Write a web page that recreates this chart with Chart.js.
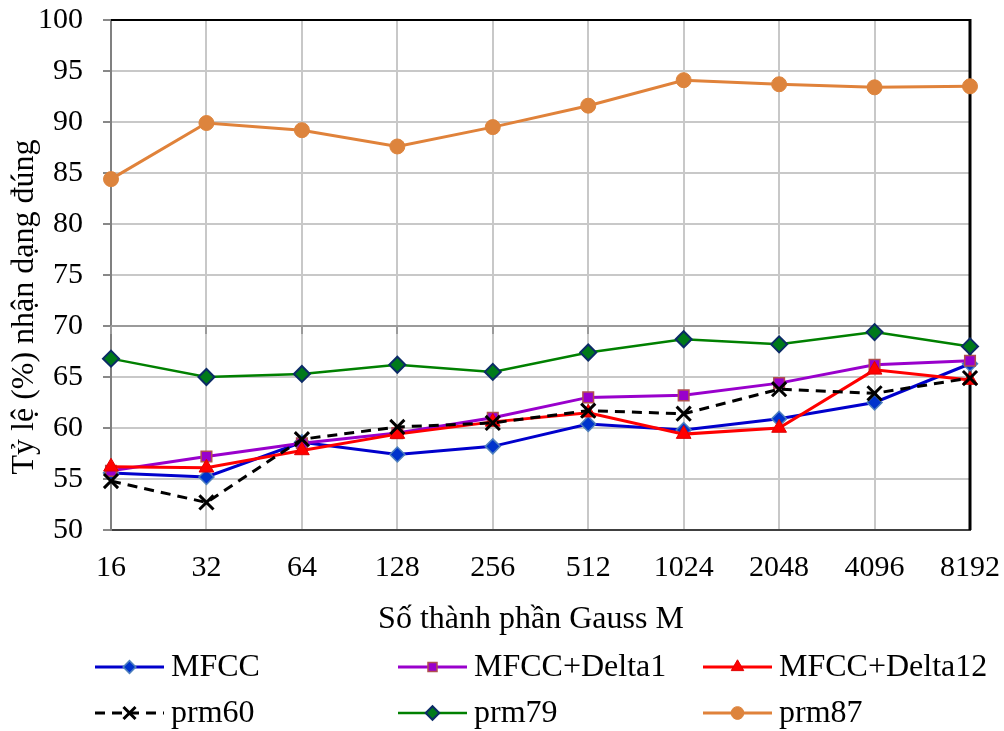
<!DOCTYPE html>
<html>
<head>
<meta charset="utf-8">
<script src="https://cdn.jsdelivr.net/npm/chart.js@4/dist/chart.umd.min.js"></script>
<style>
  html, body { margin: 0; padding: 0; background: #ffffff; }
  #wrap { width: 1004px; height: 731px; position: relative; }
</style>
</head>
<body>
<div id="wrap"><canvas id="chart" width="1004" height="731"></canvas></div>
<script>
// Number of Gaussian components M (category axis)
const categories = ['16', '32', '64', '128', '256', '512', '1024', '2048', '4096', '8192'];

// Recognition rate (%) per feature set
const mfcc        = [55.6, 55.2, 58.6, 57.4, 58.2, 60.4, 59.8, 60.9, 62.5, 66.3];
const mfccDelta1  = [55.8, 57.2, 58.5, 59.5, 61.0, 63.0, 63.2, 64.4, 66.2, 66.6];
const mfccDelta12 = [56.2, 56.1, 57.8, 59.4, 60.6, 61.5, 59.4, 60.0, 65.7, 64.7];
const prm60       = [54.8, 52.7, 58.9, 60.1, 60.5, 61.7, 61.4, 63.8, 63.4, 64.9];
const prm79       = [66.8, 65.0, 65.3, 66.2, 65.5, 67.4, 68.7, 68.2, 69.4, 68.0];
const prm87       = [84.4, 89.9, 89.2, 87.6, 89.5, 91.6, 94.1, 93.7, 93.4, 93.5];

const seriesLabels = ['MFCC', 'MFCC+Delta1', 'MFCC+Delta12', 'prm60', 'prm79', 'prm87'];

// Value axis range
const yMin = 50;
const yMax = 100;
const yStep = 5;

const xTitle = 'Số thành phần Gauss M';
const yTitle = 'Tỷ lệ (%) nhận dạng đúng';

const FONT = '"Liberation Serif", "Times New Roman", serif';
Chart.defaults.font.family = FONT;
Chart.defaults.color = '#000000';

// Darker reference line at 70 with small hanging ticks, plus the top and right frame
const framePlugin = {
  id: 'frame',
  beforeDatasetsDraw(chart) {
    const { ctx, chartArea: a, scales } = chart;
    ctx.save();
    const y70 = Math.round(scales.y.getPixelForValue(70));
    ctx.strokeStyle = '#9a9a9a';
    ctx.lineWidth = 2;
    ctx.beginPath();
    ctx.moveTo(a.left, y70);
    ctx.lineTo(a.right, y70);
    categories.forEach((c, i) => {
      const x = Math.round(scales.x.getPixelForValue(i));
      ctx.moveTo(x, y70);
      ctx.lineTo(x, y70 + 8);
    });
    ctx.stroke();

    ctx.strokeStyle = '#000000';
    ctx.lineWidth = 2;
    ctx.beginPath();
    ctx.moveTo(a.left, a.top);
    ctx.lineTo(a.right, a.top);
    ctx.stroke();
    ctx.lineWidth = 3;
    ctx.beginPath();
    ctx.moveTo(a.right, a.top - 1);
    ctx.lineTo(a.right, a.bottom);
    ctx.stroke();
    ctx.restore();
  }
};

// Axis titles
const titlesPlugin = {
  id: 'axisTitles',
  afterDraw(chart) {
    const ctx = chart.ctx;
    ctx.save();
    ctx.fillStyle = '#000000';
    ctx.font = '32px ' + FONT;
    ctx.textAlign = 'center';
    ctx.textBaseline = 'middle';
    ctx.fillText(xTitle, 531, 620);
    ctx.translate(25, 307);
    ctx.rotate(-Math.PI / 2);
    ctx.fillText(yTitle, 0, 0);
    ctx.restore();
  }
};

// Three-column legend drawn from the datasets' own styles
const legendPlugin = {
  id: 'gridLegend',
  afterDraw(chart) {
    const ctx = chart.ctx;
    const cols = [95, 398, 703];
    const rows = [667, 713];
    const lineLen = 69;
    chart.data.datasets.forEach((ds, i) => {
      const x0 = cols[i % 3];
      const y = rows[Math.floor(i / 3)];
      ctx.save();
      ctx.strokeStyle = ds.borderColor;
      ctx.lineWidth = ds.borderWidth;
      ctx.setLineDash(ds.borderDash || []);
      ctx.beginPath();
      ctx.moveTo(x0, y);
      ctx.lineTo(x0 + lineLen, y);
      ctx.stroke();
      ctx.setLineDash([]);
      ctx.fillStyle = ds.pointBackgroundColor;
      ctx.strokeStyle = ds.pointBorderColor;
      ctx.lineWidth = ds.pointBorderWidth;
      Chart.helpers.drawPoint(ctx, {
        pointStyle: ds.pointStyle,
        radius: ds.pointRadius * 0.85,
        rotation: 0,
        borderWidth: ds.pointBorderWidth
      }, x0 + lineLen / 2, y);
      ctx.fillStyle = '#000000';
      ctx.font = '32px ' + FONT;
      ctx.textAlign = 'left';
      ctx.textBaseline = 'middle';
      ctx.fillText(ds.label, x0 + lineLen + 7, y + 1);
      ctx.restore();
    });
  }
};

function series(label, data, opts, order) {
  return Object.assign({
    label: label,
    data: data,
    fill: false,
    tension: 0,
    clip: false,
    order: order
  }, opts);
}

const datasets = [
  series(seriesLabels[0], mfcc, {
    borderColor: '#0000cc', borderWidth: 3,
    pointStyle: 'rectRot', pointRadius: 7.5,
    pointBackgroundColor: '#0033cc', pointBorderColor: '#4f81bd', pointBorderWidth: 1.5
  }, 6),
  series(seriesLabels[1], mfccDelta1, {
    borderColor: '#9900cc', borderWidth: 3,
    pointStyle: 'rect', pointRadius: 7.5,
    pointBackgroundColor: '#9900cc', pointBorderColor: '#b0504f', pointBorderWidth: 1.5
  }, 5),
  series(seriesLabels[2], mfccDelta12, {
    borderColor: '#ff0000', borderWidth: 3,
    pointStyle: 'triangle', pointRadius: 8.5,
    pointBackgroundColor: '#ff0000', pointBorderColor: '#e00000', pointBorderWidth: 1
  }, 4),
  series(seriesLabels[3], prm60, {
    borderColor: '#000000', borderWidth: 3, borderDash: [10, 7],
    pointStyle: 'crossRot', pointRadius: 10,
    pointBackgroundColor: '#000000', pointBorderColor: '#000000', pointBorderWidth: 3
  }, 3),
  series(seriesLabels[4], prm79, {
    borderColor: '#008000', borderWidth: 2.5,
    pointStyle: 'rectRot', pointRadius: 8,
    pointBackgroundColor: '#007a1a', pointBorderColor: '#0b2b66', pointBorderWidth: 2
  }, 2),
  series(seriesLabels[5], prm87, {
    borderColor: '#e0823a', borderWidth: 3,
    pointStyle: 'circle', pointRadius: 7.5,
    pointBackgroundColor: '#dd843d', pointBorderColor: '#dd843d', pointBorderWidth: 1
  }, 1)
];

new Chart(document.getElementById('chart'), {
  type: 'line',
  data: { labels: categories, datasets: datasets },
  plugins: [framePlugin, titlesPlugin, legendPlugin],
  options: {
    responsive: false,
    animation: false,
    devicePixelRatio: 1,
    layout: { padding: { top: 20, right: 34, left: 0, bottom: 0 } },
    plugins: {
      legend: { display: false },
      tooltip: { enabled: false },
      title: { display: false }
    },
    scales: {
      x: {
        type: 'category',
        offset: false,
        afterFit(s) {
          s.height = 201;
          s.paddingLeft = 0;
          s.paddingRight = 0;
        },
        grid: { color: '#c8c8c8', lineWidth: 2, drawTicks: false },
        border: { color: '#404040', width: 2 },
        ticks: { font: { size: 30 }, padding: 20, maxRotation: 0, autoSkip: false }
      },
      y: {
        min: yMin,
        max: yMax,
        afterFit(s) {
          s.width = 111;
          s.paddingTop = 0;
          s.paddingBottom = 0;
        },
        grid: { color: '#c8c8c8', lineWidth: 2, tickLength: 8, tickColor: '#888888' },
        border: { color: '#808080', width: 2 },
        ticks: { stepSize: yStep, font: { size: 30 }, padding: 20 }
      }
    }
  }
});
</script>
</body>
</html>
